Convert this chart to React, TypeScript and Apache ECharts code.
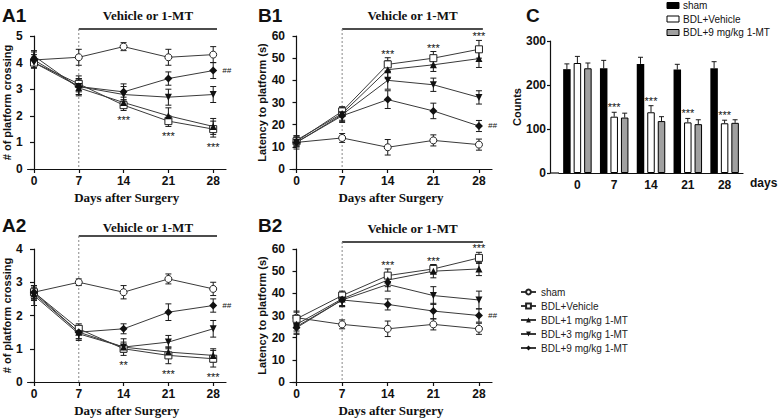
import React, { useEffect, useRef } from "react";
import * as echarts from "echarts";

// ---------- data ----------
const DAYS = [0, 7, 14, 21, 28];
const DAY_LABELS = ["0", "7", "14", "21", "28"];
const GROUPS = ["sham", "BDL+Vehicle", "BDL+1 mg/kg 1-MT", "BDL+3 mg/kg 1-MT", "BDL+9 mg/kg 1-MT"];
const BAR_GROUPS = ["sham", "BDL+Vehicle", "BDL+9 mg/kg 1-MT"];
const TREAT_START = 7;
const TREAT_END = 28.6;

// A1: # of platform crossing
const A1_SHAM = [4.1, 4.2, 4.6, 4.2, 4.3];
const A1_VEH = [4.0, 3.2, 2.4, 1.8, 1.5];
const A1_MT1 = [4.25, 3.05, 2.5, 2.0, 1.6];
const A1_MT3 = [4.0, 3.1, 2.8, 2.7, 2.8];
const A1_MT9 = [4.1, 3.1, 2.9, 3.4, 3.7];
const A1_SHAM_SE = [0.3, 0.3, 0.15, 0.3, 0.3];
const A1_VEH_SE = [0.2, 0.3, 0.2, 0.2, 0.3];
const A1_MT1_SE = [0.2, 0.3, 0.2, 0.3, 0.3];
const A1_MT3_SE = [0.2, 0.3, 0.3, 0.3, 0.3];
const A1_MT9_SE = [0.2, 0.3, 0.3, 0.25, 0.3];
const A1_SIG = ["", "", "***", "***", "***"];

// A2
const A2_SHAM = [2.7, 3.0, 2.7, 3.1, 2.8];
const A2_VEH = [2.7, 1.6, 1.0, 0.8, 0.7];
const A2_MT1 = [2.65, 1.5, 1.05, 0.9, 0.8];
const A2_MT3 = [2.6, 1.45, 1.05, 1.2, 1.6];
const A2_MT9 = [2.7, 1.5, 1.6, 2.1, 2.3];
const A2_SHAM_SE = [0.2, 0.1, 0.2, 0.15, 0.2];
const A2_VEH_SE = [0.2, 0.15, 0.1, 0.25, 0.25];
const A2_MT1_SE = [0.2, 0.2, 0.15, 0.15, 0.2];
const A2_MT3_SE = [0.3, 0.2, 0.25, 0.2, 0.25];
const A2_MT9_SE = [0.2, 0.2, 0.15, 0.25, 0.2];
const A2_SIG = ["", "", "**", "***", "***"];

// B1: latency to platform (s)
const B1_SHAM = [12, 14, 9.8, 12.9, 11];
const B1_VEH = [12.5, 26, 47.2, 50, 54];
const B1_MT1 = [13, 25, 44.8, 47, 49.8];
const B1_MT3 = [12, 24.5, 40, 38, 32.3];
const B1_MT9 = [12, 24, 31.3, 26.2, 19.4];
const B1_SHAM_SE = [3, 2, 3.5, 2.5, 2.5];
const B1_VEH_SE = [2, 2, 3, 3, 4];
const B1_MT1_SE = [2, 3, 4, 3, 4];
const B1_MT3_SE = [2, 3, 4, 3, 3];
const B1_MT9_SE = [2, 3, 4, 3.5, 2.5];
const B1_SIG = ["", "", "***", "***", "***"];

// B2
const B2_SHAM = [29, 26, 24, 26, 24];
const B2_VEH = [28.5, 39, 48, 51, 56];
const B2_MT1 = [26, 37.5, 46, 50, 51];
const B2_MT3 = [25, 37, 44, 39, 37];
const B2_MT9 = [24.5, 37, 35, 32, 30];
const B2_SHAM_SE = [3, 2, 3.5, 2.5, 2.5];
const B2_VEH_SE = [3, 2, 3, 2, 2.5];
const B2_MT1_SE = [3, 3, 3, 3, 3];
const B2_MT3_SE = [3, 3, 3, 4, 4];
const B2_MT9_SE = [3, 3, 2.5, 3.5, 3];
const B2_SIG = ["", "", "***", "***", "***"];

const HASH_LABEL = "##";

// C: counts
const C_SHAM = [236, 238, 248, 235, 238];
const C_VEH = [250, 128, 138, 115, 113];
const C_MT9 = [238, 126, 118, 111, 114];
const C_SHAM_SE = [12, 18, 15, 12, 15];
const C_VEH_SE = [15, 10, 15, 9, 7];
const C_MT9_SE = [12, 10, 10, 10, 7];
const C_SIG = ["", "***", "***", "***", "***"];

// ---------- styles ----------
const SANS = "Liberation Sans, Arial, sans-serif";
const SERIF = "Liberation Serif, Times New Roman, serif";
const INK = "#111";
const SYMBOLS = ["circle", "rect", "triangle", "triangle", "diamond"];
const SYMBOL_OPEN = [true, true, false, false, false];
const SYMBOL_ROT = [0, 0, 0, 180, 0];
const SYMBOL_SIZE = [7, 7, 7, 7, 8];
const BAR_FILL = ["#000", "#fff", "#a0a0a0"];

const LINE_PANELS = [
  {
    label: "A1", means: [A1_SHAM, A1_VEH, A1_MT1, A1_MT3, A1_MT9],
    sems: [A1_SHAM_SE, A1_VEH_SE, A1_MT1_SE, A1_MT3_SE, A1_MT9_SE],
    sig: A1_SIG, dir: 1, ymax: 5, yint: 1, yname: "# of platform crossing",
    grid: { left: 25, top: 36, width: 201, height: 133 }, lineY: 29, titleY: 15, labelXY: [2, 15],
    ynameGap: 12,
  },
  {
    label: "B1", means: [B1_SHAM, B1_VEH, B1_MT1, B1_MT3, B1_MT9],
    sems: [B1_SHAM_SE, B1_VEH_SE, B1_MT1_SE, B1_MT3_SE, B1_MT9_SE],
    sig: B1_SIG, dir: -1, ymax: 60, yint: 10, yname: "Latency to platform (s)",
    grid: { left: 290, top: 36, width: 202, height: 133 }, lineY: 29, titleY: 15, labelXY: [258, 15],
    ynameGap: 20,
  },
  {
    label: "A2", means: [A2_SHAM, A2_VEH, A2_MT1, A2_MT3, A2_MT9],
    sems: [A2_SHAM_SE, A2_VEH_SE, A2_MT1_SE, A2_MT3_SE, A2_MT9_SE],
    sig: A2_SIG, dir: 1, ymax: 4, yint: 1, yname: "# of platform crossing",
    grid: { left: 25, top: 249, width: 201, height: 134 }, lineY: 236, titleY: 227, labelXY: [2, 225],
    ynameGap: 12,
  },
  {
    label: "B2", means: [B2_SHAM, B2_VEH, B2_MT1, B2_MT3, B2_MT9],
    sems: [B2_SHAM_SE, B2_VEH_SE, B2_MT1_SE, B2_MT3_SE, B2_MT9_SE],
    sig: B2_SIG, dir: -1, ymax: 60, yint: 10, yname: "Latency to platform (s)",
    grid: { left: 290, top: 249, width: 202, height: 133 }, lineY: 242, titleY: 228, labelXY: [258, 225],
    ynameGap: 20,
  },
];

const C_GRID = { left: 559, top: 41, width: 184, height: 132 };
const C_YOFFSET = 9;
const BAR_W = 7.5;
const BAR_GAP = 3;

const axisLabelStyle = { fontFamily: SANS, fontWeight: "bold" as const, fontSize: 12, color: INK };

function errRender(dx: number, upOnly: boolean, cap: number) {
  return (_params: any, api: any) => {
    const x = api.value(0);
    const y = api.value(1);
    const e = api.value(2);
    const mid = api.coord([x, y]);
    const hi = api.coord([x, y + e]);
    const lo = upOnly ? mid : api.coord([x, y - e]);
    const cx = mid[0] + dx;
    const st = { stroke: "#1a1a1a", lineWidth: 1 };
    const children: any[] = [
      { type: "line", shape: { x1: cx, y1: lo[1], x2: cx, y2: hi[1] }, style: st },
      { type: "line", shape: { x1: cx - cap, y1: hi[1], x2: cx + cap, y2: hi[1] }, style: st },
    ];
    if (!upOnly) children.push({ type: "line", shape: { x1: cx - cap, y1: lo[1], x2: cx + cap, y2: lo[1] }, style: st });
    return { type: "group", children };
  };
}

export default function App() {
  const ref = useRef<HTMLDivElement>(null);
  useEffect(() => {
    const el = ref.current!;
    const chart = echarts.init(el, undefined, { renderer: "svg", width: 778, height: 418 });

    const grids: any[] = [];
    const xAxes: any[] = [];
    const yAxes: any[] = [];
    const series: any[] = [];

    LINE_PANELS.forEach((p, i) => {
      grids.push({ ...p.grid, containLabel: false });
      xAxes.push({
        type: "value", gridIndex: i, min: -1, max: 30,
        axisLine: { show: true, lineStyle: { color: INK, width: 1.2 } },
        axisTick: { show: true, length: 4, customValues: DAYS, lineStyle: { color: INK, width: 1.2 } },
        axisLabel: { ...axisLabelStyle, margin: 6, customValues: DAYS },
        splitLine: { show: false },
        name: "Days after Surgery", nameLocation: "middle", nameGap: 22,
        nameTextStyle: { fontFamily: SERIF, fontWeight: "bold", fontSize: 13, color: INK },
      });
      yAxes.push({
        type: "value", gridIndex: i, min: 0, max: p.ymax, interval: p.yint,
        axisLine: { show: true, lineStyle: { color: INK, width: 1.2 } },
        axisTick: { show: true, length: 4, lineStyle: { color: INK, width: 1.2 } },
        axisLabel: { ...axisLabelStyle, margin: 5 },
        splitLine: { show: false },
        name: p.yname, nameLocation: "middle", nameRotate: 90, nameGap: p.ynameGap,
        nameTextStyle: { fontFamily: SANS, fontWeight: "bold", fontSize: 11, color: INK },
      });
      const errData: any[] = [];
      p.means.forEach((m, gi) => {
        m.forEach((v, k) => errData.push([DAYS[k], v, p.sems[gi][k]]));
      });
      series.push({
        type: "custom", name: "err" + i, xAxisIndex: i, yAxisIndex: i, z: 2,
        renderItem: errRender(0, false, 3), data: errData, encode: { x: 0, y: 1 }, silent: true,
      });
      p.means.forEach((m, gi) => {
        const open = SYMBOL_OPEN[gi];
        series.push({
          type: "line", name: GROUPS[gi], xAxisIndex: i, yAxisIndex: i, z: 3,
          data: m.map((v, k) => [DAYS[k], v]),
          symbol: SYMBOLS[gi], symbolRotate: SYMBOL_ROT[gi], symbolSize: SYMBOL_SIZE[gi],
          showAllSymbol: true,
          lineStyle: { color: "#3a3a3a", width: 1 },
          itemStyle: { color: open ? "#fff" : "#111", borderColor: "#222", borderWidth: open ? 1 : 0 },
        });
      });
    });

    // bar panel C
    const ci = LINE_PANELS.length;
    grids.push({ ...C_GRID });
    xAxes.push({
      type: "category", gridIndex: ci, data: DAY_LABELS,
      axisLine: { show: true, lineStyle: { color: INK, width: 1.2 } },
      axisTick: { show: false },
      axisLabel: { ...axisLabelStyle, margin: 6 },
      splitLine: { show: false },
    });
    yAxes.push({
      type: "value", gridIndex: ci, min: 0, max: 300, interval: 100, offset: C_YOFFSET,
      axisLine: { show: true, lineStyle: { color: INK, width: 1.2 } },
      axisTick: { show: true, length: 3, lineStyle: { color: INK, width: 1.2 } },
      axisLabel: { ...axisLabelStyle, margin: 4 },
      splitLine: { show: false },
      name: "Counts", nameLocation: "middle", nameRotate: 90, nameGap: 24,
      nameTextStyle: { fontFamily: SANS, fontWeight: "bold", fontSize: 11, color: INK },
    });
    const barVals = [C_SHAM, C_VEH, C_MT9];
    const barSe = [C_SHAM_SE, C_VEH_SE, C_MT9_SE];
    barVals.forEach((vals, bi) => {
      series.push({
        type: "bar", name: BAR_GROUPS[bi], xAxisIndex: ci, yAxisIndex: ci, z: 3,
        data: vals, barWidth: BAR_W, barGap: `${(BAR_GAP / BAR_W) * 100}%`,
        itemStyle: { color: BAR_FILL[bi], borderColor: "#000", borderWidth: bi === 0 ? 0 : 1 },
      });
    });
    barVals.forEach((vals, bi) => {
      const dx = (bi - 1) * (BAR_W + BAR_GAP);
      series.push({
        type: "custom", name: "cerr" + bi, xAxisIndex: ci, yAxisIndex: ci, z: 2,
        renderItem: errRender(dx, true, 2.5), silent: true,
        data: vals.map((v, k) => [k, v, barSe[bi][k]]), encode: { x: 0, y: 1 },
      });
    });

    chart.setOption({
      animation: false,
      backgroundColor: "#fff",
      grid: grids,
      xAxis: xAxes,
      yAxis: yAxes,
      series,
      legend: {
        data: GROUPS, orient: "vertical", left: 515, top: 282,
        itemWidth: 15, itemHeight: 6, itemGap: 4, selectedMode: false,
        textStyle: { fontFamily: SANS, fontSize: 10, color: "#222" },
      },
    });

    // annotations
    const g: any[] = [];
    const txt = (x: number, y: number, text: string, font: string, align = "center", vAlign = "middle") => ({
      type: "text", x, y, silent: true,
      style: { text, font, textAlign: align, align, textVerticalAlign: vAlign, verticalAlign: vAlign, fill: INK },
    });
    LINE_PANELS.forEach((p, i) => {
      const c = (x: number, y: number) => chart.convertToPixel({ xAxisIndex: i, yAxisIndex: i } as any, [x, y]) as number[];
      const s = c(TREAT_START, 0);
      const e = c(TREAT_END, 0);
      g.push({ type: "line", silent: true, shape: { x1: s[0], y1: p.lineY, x2: e[0], y2: p.lineY }, style: { stroke: INK, lineWidth: 1.5 } });
      g.push({ type: "line", silent: true, shape: { x1: s[0], y1: p.lineY, x2: s[0], y2: s[1] }, style: { stroke: "#888", lineWidth: 1, lineDash: [2, 2] } });
      g.push(txt((s[0] + e[0]) / 2, p.titleY, "Vehicle or 1-MT", `bold 13px ${SERIF}`));
      g.push(txt(p.labelXY[0], p.labelXY[1], p.label, `bold 19px ${SANS}`, "left"));
      DAYS.forEach((d, k) => {
        if (!p.sig[k]) return;
        const ext = p.dir > 0
          ? Math.min(...p.means.map((m, gi) => m[k] - p.sems[gi][k]))
          : Math.max(...p.means.map((m, gi) => m[k] + p.sems[gi][k]));
        const pt = c(d, ext);
        g.push(txt(pt[0], pt[1] + p.dir * 7 + 3, p.sig[k], `11px ${SANS}`));
      });
      const last = p.means[4][4];
      const hp = c(DAYS[4], last);
      g.push(txt(hp[0] + 9, hp[1], HASH_LABEL, `italic 8px ${SANS}`, "left"));
    });
    // C annotations
    const cc = (k: number, y: number) => chart.convertToPixel({ xAxisIndex: ci, yAxisIndex: ci } as any, [k, y]) as number[];
    C_SIG.forEach((sg, k) => {
      if (!sg) return;
      const pt = cc(k, C_VEH[k] + C_VEH_SE[k]);
      g.push(txt(pt[0], pt[1] - 5, sg, `11px ${SANS}`));
    });
    const o = cc(0, 0);
    g.push({ type: "line", silent: true, shape: { x1: C_GRID.left - C_YOFFSET, y1: o[1], x2: C_GRID.left, y2: o[1] }, style: { stroke: INK, lineWidth: 1.2 } });
    g.push(txt(750, 183, "days", `bold 12px ${SANS}`, "left"));
    g.push(txt(526, 15, "C", `bold 19px ${SANS}`, "left"));
    const legY = [5.5, 19, 32.5];
    BAR_GROUPS.forEach((name, bi) => {
      g.push({ type: "rect", silent: true, shape: { x: 667, y: legY[bi] - 3, width: 12, height: 6 }, style: { fill: BAR_FILL[bi], stroke: "#000", lineWidth: 1 } });
      g.push(txt(683, legY[bi], name, `10px ${SANS}`, "left"));
    });
    chart.setOption({ graphic: g });

    return () => chart.dispose();
  }, []);
  return <div ref={ref} style={{ position: "absolute", left: 0, top: 0, width: 778, height: 418, background: "#fff" }} />;
}
